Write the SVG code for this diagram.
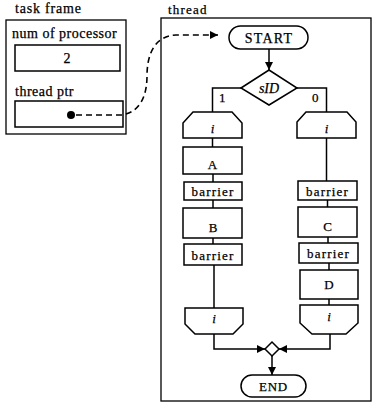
<svg xmlns="http://www.w3.org/2000/svg" width="377" height="407" viewBox="0 0 377 407">
<style>
  .box{fill:#fff;stroke:#000;stroke-width:1.5}
  .frame{fill:none;stroke:#000;stroke-width:1.3}
  .t{font-family:"Liberation Serif","Times New Roman",serif;font-size:13px;fill:#000;stroke:#000;stroke-width:0.25}
  .big{font-size:14px}
  .c{text-anchor:middle}
  .it{font-style:italic}
  .ln{fill:none;stroke:#000;stroke-width:1.5}
  .dash{fill:none;stroke:#000;stroke-width:1.6;stroke-dasharray:6 4}
</style>
<defs>
  <marker id="ah" markerUnits="userSpaceOnUse" markerWidth="10" markerHeight="8" refX="8" refY="4" orient="auto">
    <path d="M0,0 L8,4 L0,8 Z" fill="#000"/>
  </marker>
</defs>
<rect width="377" height="407" fill="#fff"/>

<g id="task-frame">
  <text class="t big" x="15" y="13" letter-spacing="0.8">task frame</text>
  <rect class="frame" x="6" y="20" width="120" height="114"/>
  <text class="t big" x="12" y="38" letter-spacing="0.5">num of processor</text>
  <g id="num-processor">
    <rect class="box" x="15" y="45" width="105" height="26"/>
    <text class="t big c" x="67" y="63">2</text>
  </g>
  <text class="t big" x="15" y="96" letter-spacing="0.5">thread ptr</text>
  <g id="thread-ptr">
    <rect class="box" x="15" y="101" width="108" height="26"/>
    <circle cx="71" cy="115" r="4" fill="#000"/>
  </g>
</g>

<g id="thread-frame">
  <text class="t" x="168" y="14" letter-spacing="1.2">thread</text>
  <rect class="frame" x="161" y="18" width="210" height="383"/>
</g>

<g id="start">
  <rect class="box" x="229" y="26" width="79" height="23" rx="11.5"/>
  <text class="t big c" x="269" y="42.5" letter-spacing="1.2">START</text>
</g>

<g id="sid">
  <path class="box" d="M241,88 L269,70 L297,88 L269,105 Z"/>
  <text class="t big c it" x="269" y="93">sID</text>
</g>

<g id="loop-top-left">
  <path class="box" d="M183,123 L193,112 H232 L242,123 V138 H183 Z"/>
  <text class="t c it" x="212.5" y="133">i</text>
</g>
<g id="a">
  <rect class="box" x="183" y="147" width="59" height="27"/>
  <text class="t c" x="212.5" y="169">A</text>
</g>
<g id="barrier-l1">
  <rect class="box" x="184" y="182" width="58" height="18"/>
  <text class="t c" x="213" y="196" letter-spacing="1.2">barrier</text>
</g>
<g id="b">
  <rect class="box" x="183" y="208" width="59" height="30"/>
  <text class="t c" x="213" y="232">B</text>
</g>
<g id="barrier-l2">
  <rect class="box" x="184" y="244" width="58" height="21"/>
  <text class="t c" x="213" y="259.5" letter-spacing="1.2">barrier</text>
</g>
<g id="loop-bottom-left">
  <path class="box" d="M185,308 H243 V324 L233,334 H195 L185,324 Z"/>
  <text class="t c it" x="214" y="323">i</text>
</g>

<g id="loop-top-right">
  <path class="box" d="M297,122 L306,112 H347 L356,122 V138 H297 Z"/>
  <text class="t c it" x="326.5" y="133">i</text>
</g>
<g id="barrier-r1">
  <rect class="box" x="298" y="181" width="59" height="19"/>
  <text class="t c" x="327.5" y="195.5" letter-spacing="1.2">barrier</text>
</g>
<g id="c">
  <rect class="box" x="298" y="207" width="59" height="30"/>
  <text class="t c" x="327.5" y="231">C</text>
</g>
<g id="barrier-r2">
  <rect class="box" x="299" y="243" width="59" height="20"/>
  <text class="t c" x="328.5" y="258" letter-spacing="1.2">barrier</text>
</g>
<g id="d">
  <rect class="box" x="300" y="270" width="58" height="29"/>
  <text class="t c" x="329" y="289">D</text>
</g>
<g id="loop-bottom-right">
  <path class="box" d="M300,305 H358 V323 L346,334 H312 L300,323 Z"/>
  <text class="t c it" x="329" y="321">i</text>
</g>

<g id="join">
  <path class="box" d="M265,349 L272,342 L279,349 L272,356 Z"/>
</g>

<g id="end">
  <rect class="box" x="241" y="375" width="65" height="22" rx="11"/>
  <text class="t c" x="273.5" y="391" letter-spacing="0.8">END</text>
</g>

<g id="connectors">
  <path class="dash" d="M76,115 H122 C140,112 147,96 147,76 C147,52 156,36 176,35 L218,35" marker-end="url(#ah)"/>
  <line class="ln" x1="269" y1="49" x2="269" y2="70" marker-end="url(#ah)"/>
  <path class="ln" d="M241,88 H212.5 V112"/>
  <path class="ln" d="M297,88 H326.5 V112"/>
  <text class="t" x="219" y="102">1</text>
  <text class="t" x="312" y="102">0</text>
  <line class="ln" x1="212.5" y1="138" x2="212.5" y2="147"/>
  <line class="ln" x1="213" y1="174" x2="213" y2="182"/>
  <line class="ln" x1="213" y1="200" x2="213" y2="208"/>
  <line class="ln" x1="213" y1="238" x2="213" y2="244"/>
  <line class="ln" x1="214" y1="265" x2="214" y2="308"/>
  <line class="ln" x1="326.5" y1="138" x2="326.5" y2="181"/>
  <line class="ln" x1="327.5" y1="200" x2="327.5" y2="207"/>
  <line class="ln" x1="328" y1="237" x2="328" y2="243"/>
  <line class="ln" x1="329" y1="263" x2="329" y2="270"/>
  <line class="ln" x1="329" y1="299" x2="329" y2="305"/>
  <path class="ln" d="M214,334 V349 H265" marker-end="url(#ah)"/>
  <path class="ln" d="M330,334 V349 H279" marker-end="url(#ah)"/>
  <line class="ln" x1="272" y1="356" x2="272" y2="375" marker-end="url(#ah)"/>
</g>
</svg>
